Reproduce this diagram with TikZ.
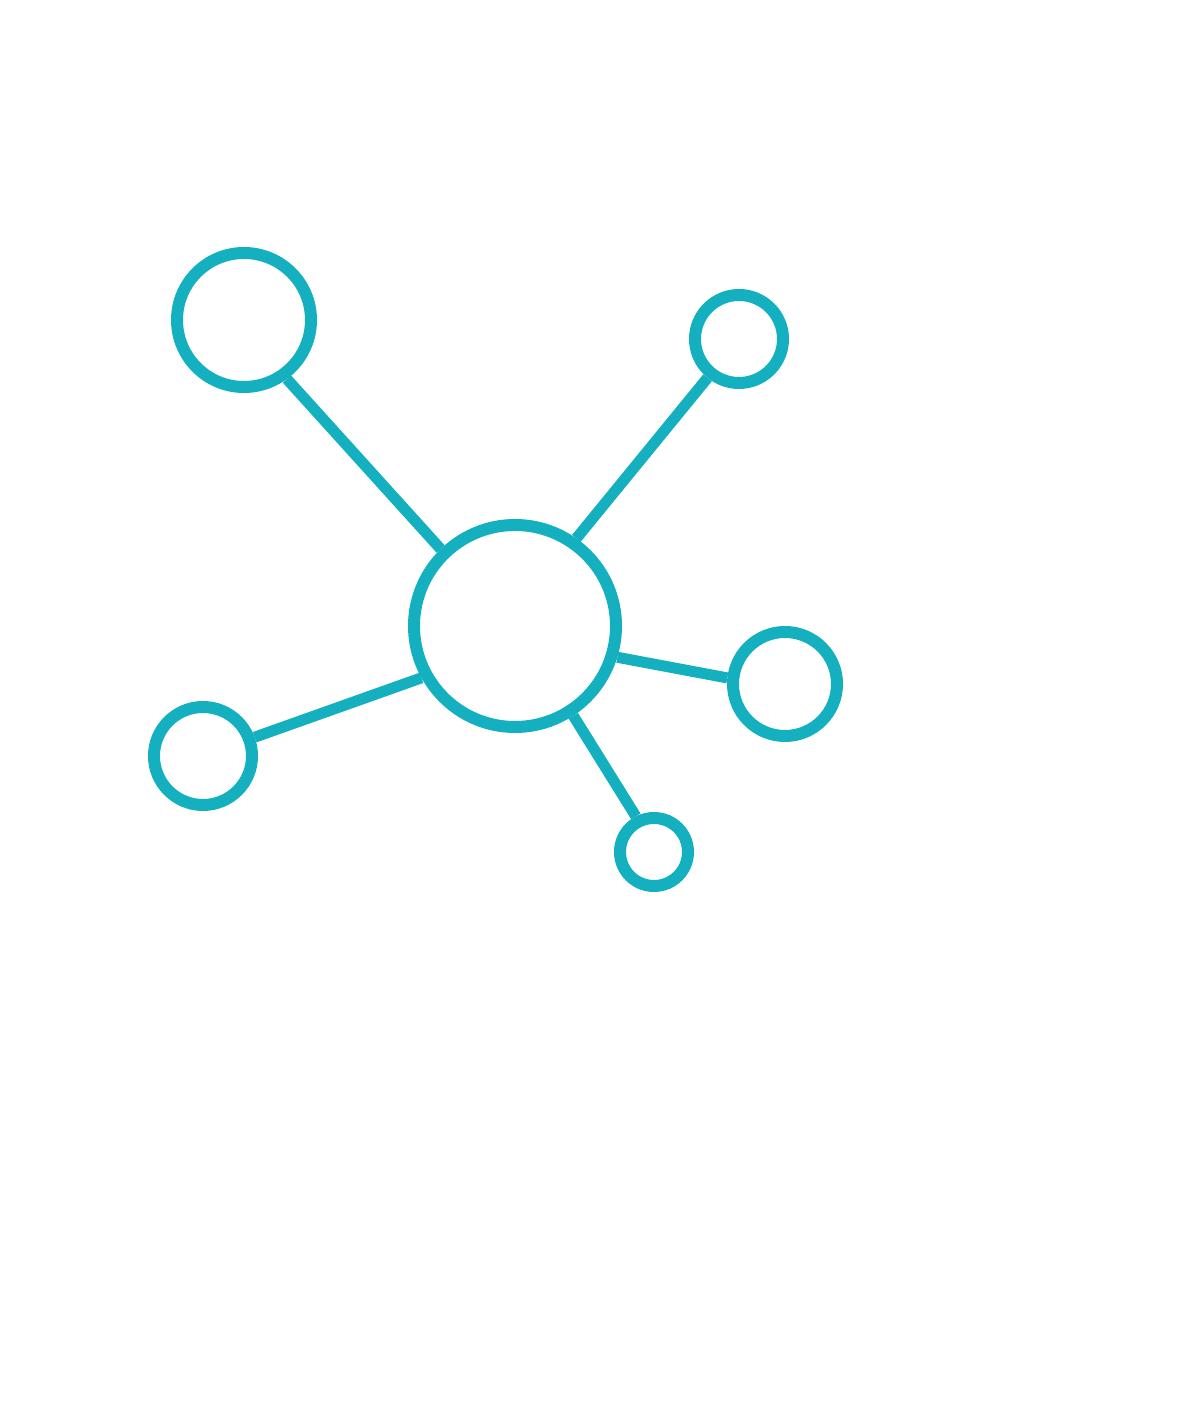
\documentclass[tikz,border=0pt]{standalone}
\usepackage{tikz}
\definecolor{hubteal}{HTML}{14B0BF}

\begin{document}
\begin{tikzpicture}
\tikzstyle{hub}=[circle,draw=hubteal,line width=0.12cm,inner sep=0pt]
\tikzstyle{link}=[draw=hubteal,line width=0.11cm]
\useasboundingbox (0,0) rectangle (12,14.11);
\node[hub,minimum size=2.02cm] (C) at (5.15,7.85) {};
\node[hub,minimum size=1.34cm] (TL) at (2.44,10.91) {};
\node[hub,minimum size=0.88cm] (TR) at (7.39,10.72) {};
\node[hub,minimum size=1.04cm] (R) at (7.85,7.27) {};
\node[hub,minimum size=0.98cm] (L) at (2.03,6.55) {};
\node[hub,minimum size=0.68cm] (B) at (6.54,5.59) {};
\draw[link] (C.134)--(TL.-54); \draw[link] (C.55)--(TR.-129);
\draw[link] (C.-17)--(R.174);  \draw[link] (C.-151)--(L.20);
\draw[link] (C.-57)--(B.117);
\end{tikzpicture}
\end{document}
